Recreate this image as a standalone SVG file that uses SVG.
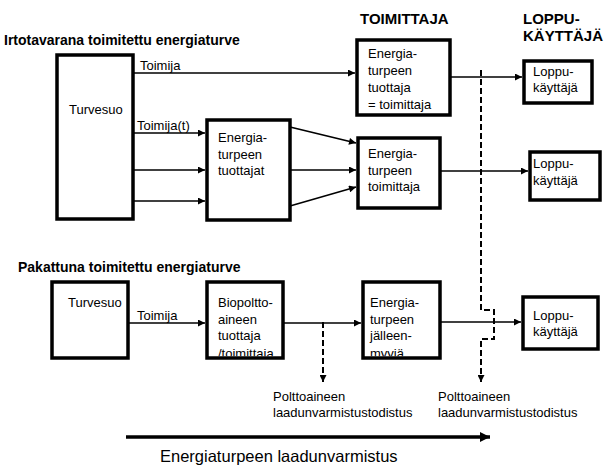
<svg xmlns="http://www.w3.org/2000/svg" width="610" height="468" viewBox="0 0 610 468">
<defs>
<style>
text{font-family:"Liberation Sans",Arial,Helvetica,sans-serif;fill:#000}
.t{font-size:13px}
.sec{font-size:14px;font-weight:bold}
.hd{font-size:15px;font-weight:bold}
.big{font-size:16.5px}
.box{fill:#fff;stroke:#000;stroke-width:3.5}
.ln{stroke:#000;stroke-width:1.6;fill:none}
.dash{stroke:#000;stroke-width:2;fill:none;stroke-dasharray:6 3}
.thick{stroke:#000;stroke-width:3.5;fill:none}
</style>
<marker id="ah" viewBox="0 0 8 8" refX="8" refY="4" markerWidth="8" markerHeight="7" markerUnits="userSpaceOnUse" orient="auto"><path d="M0,0 L8,4 L0,8 z" fill="#000"/></marker>
<marker id="ahb" viewBox="0 0 10 10" refX="10" refY="5" markerWidth="11" markerHeight="10" markerUnits="userSpaceOnUse" orient="auto"><path d="M0,0 L10,5 L0,10 z" fill="#000"/></marker>
<clipPath id="cBio"><rect x="208" y="283" width="74" height="73.2"/></clipPath>
<clipPath id="cJal"><rect x="364" y="283" width="75" height="73.2"/></clipPath>
</defs>
<rect width="610" height="468" fill="#fff"/>

<text class="hd" x="360" y="24">TOIMITTAJA</text>
<text class="hd" x="523" y="24">LOPPU-</text>
<text class="hd" x="523" y="41">KÄYTTÄJÄ</text>
<text class="sec" x="4" y="45">Irtotavarana toimitettu energiaturve</text>
<text class="sec" x="18" y="272">Pakattuna toimitettu energiaturve</text>

<g id="turvesuo1">
<rect class="box" x="57" y="55" width="76" height="164"/>
<text class="t" x="69" y="114">Turvesuo</text>
</g>
<g id="tuottajat">
<rect class="box" x="207" y="120" width="83" height="100"/>
<text class="t" x="218" y="142">Energia-</text>
<text class="t" x="218" y="158.5">turpeen</text>
<text class="t" x="218" y="175">tuottajat</text>
</g>
<g id="tuottaja-toimittaja">
<rect class="box" x="357" y="40" width="93" height="75"/>
<text class="t" x="368" y="58">Energia-</text>
<text class="t" x="368" y="75">turpeen</text>
<text class="t" x="368" y="92">tuottaja</text>
<text class="t" x="368" y="109">= toimittaja</text>
</g>
<g id="toimittaja">
<rect class="box" x="358" y="138" width="82" height="70"/>
<text class="t" x="368" y="158">Energia-</text>
<text class="t" x="368" y="175">turpeen</text>
<text class="t" x="368" y="191">toimittaja</text>
</g>
<g id="loppu1">
<rect class="box" x="524" y="61" width="68" height="42"/>
<text class="t" x="533" y="76">Loppu-</text>
<text class="t" x="533" y="92">käyttäjä</text>
</g>
<g id="loppu2">
<rect class="box" x="530" y="152" width="70" height="48"/>
<text class="t" x="533" y="168">Loppu-</text>
<text class="t" x="533" y="185">käyttäjä</text>
</g>
<g id="turvesuo2">
<rect class="box" x="52" y="282" width="76" height="76"/>
<text class="t" x="68" y="307">Turvesuo</text>
</g>
<g id="biopolttoaine">
<rect class="box" x="207" y="282" width="76" height="76"/>
<g clip-path="url(#cBio)">
<text class="t" x="218" y="307">Biopoltto-</text>
<text class="t" x="218" y="323.5">aineen</text>
<text class="t" x="218" y="340">tuottaja</text>
<text class="t" x="218" y="358">/toimittaja</text>
</g>
</g>
<g id="jalleenmyyja">
<rect class="box" x="363" y="282" width="77" height="76"/>
<g clip-path="url(#cJal)">
<text class="t" x="370" y="307">Energia-</text>
<text class="t" x="370" y="323.5">turpeen</text>
<text class="t" x="370" y="340">jälleen-</text>
<text class="t" x="370" y="358">myyjä</text>
</g>
</g>
<g id="loppu3">
<rect class="box" x="523" y="297" width="75" height="52"/>
<text class="t" x="533" y="320">Loppu-</text>
<text class="t" x="533" y="336">käyttäjä</text>
</g>

<g id="connectors">
<path class="ln" d="M133,73 H355" marker-end="url(#ah)"/>
<path class="ln" d="M133,133 H205" marker-end="url(#ah)"/>
<path class="ln" d="M133,170 H205" marker-end="url(#ah)"/>
<path class="ln" d="M133,201 H205" marker-end="url(#ah)"/>
<path class="ln" d="M290,127 L356,143" marker-end="url(#ah)"/>
<path class="ln" d="M290,170 H356" marker-end="url(#ah)"/>
<path class="ln" d="M290,206 L356,187" marker-end="url(#ah)"/>
<path class="ln" d="M450,77 H522" marker-end="url(#ah)"/>
<path class="ln" d="M440,171 H528" marker-end="url(#ah)"/>
<path class="ln" d="M128,323 H205" marker-end="url(#ah)"/>
<path class="ln" d="M283,323 H361" marker-end="url(#ah)"/>
<path class="ln" d="M440,322 H521" marker-end="url(#ah)"/>
<path class="dash" d="M481,70 V310 H494 V339 H481 V382" marker-end="url(#ah)"/>
<path class="dash" d="M323,322 V382" marker-end="url(#ah)"/>
<path class="thick" d="M126,437 H490" marker-end="url(#ahb)"/>
<text class="t" x="140" y="70">Toimija</text>
<text class="t" x="137" y="130">Toimija(t)</text>
<text class="t" x="137" y="320">Toimija</text>
<text class="t" x="273" y="401">Polttoaineen</text>
<text class="t" x="273" y="417">laadunvarmistustodistus</text>
<text class="t" x="438" y="401">Polttoaineen</text>
<text class="t" x="438" y="417">laadunvarmistustodistus</text>
</g>
<text class="big" x="160" y="462">Energiaturpeen laadunvarmistus</text>
</svg>
